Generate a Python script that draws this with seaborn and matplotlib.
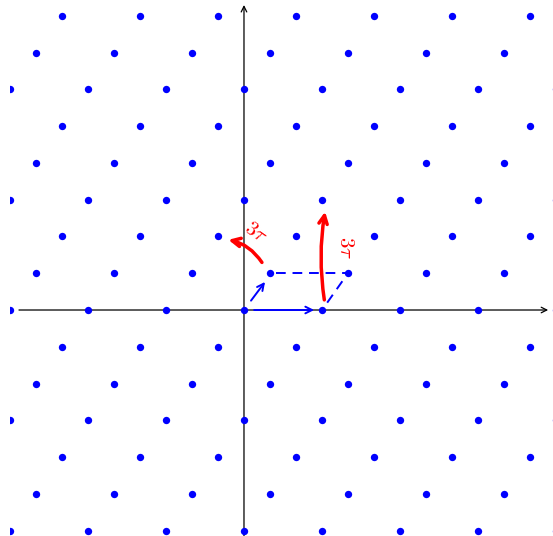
import matplotlib
matplotlib.use("Agg")
import matplotlib.pyplot as plt
import numpy as np
import pandas as pd
import seaborn as sns

# lattice Z + Z*tau with tau = (1 + i*sqrt(2)) / 3
tau_re = 1 / 3
tau_im = np.sqrt(2) / 3
rows = list(range(-6, 9))       # multiples of tau
cols = list(range(-8, 10))      # multiples of 1

# arrows and labels (data coords)
basis_one = [(0.13, 0.0), (0.90, 0.0)]
basis_tau = [(0.09, 0.12), (0.27, 0.36)]
dash_top = [(0.41, tau_im), (1.32, tau_im)]
dash_side = [(1.067, 0.094), (1.29, 0.41)]
red_left = [(0.23, 0.61), (-0.20, 0.90)]
red_right = [(1.03, 0.13), (1.04, 1.26)]
labels = [r'$3\tau$', r'$3\tau$']
label_pos = [(0.16, 1.0), (1.31, 0.80)]
label_rot = [-35, -90]

pts = [(m + n * tau_re, n * tau_im) for n in rows for m in cols]
df = pd.DataFrame(pts, columns=['x', 'y'])

sns.set_style('white')
plt.rcParams['mathtext.fontset'] = 'cm'

fig = plt.figure(figsize=(5.53, 5.36), dpi=100)
ax = fig.add_axes([10 / 553, 0, 543 / 553, 1])
ax.set_xlim(-3.0, 3.962)
ax.set_ylim(-2.897, 3.974)
ax.axis('off')

# axes with arrow tips
ax.annotate('', xy=(3.90, 0), xytext=(-2.885, 0),
            arrowprops=dict(arrowstyle='->', lw=0.9, color='black', shrinkA=0, shrinkB=0))
ax.annotate('', xy=(0, 3.91), xytext=(0, -2.897),
            arrowprops=dict(arrowstyle='->', lw=0.9, color='black', shrinkA=0, shrinkB=0),
            annotation_clip=False)

sns.scatterplot(data=df, x='x', y='y', color='blue', s=28, linewidth=0, ax=ax, zorder=3)

# blue basis vectors
for a, b in [basis_one, basis_tau]:
    ax.annotate('', xy=b, xytext=a,
                arrowprops=dict(arrowstyle='->', lw=1.4, color='blue', shrinkA=0, shrinkB=0,
                                mutation_scale=12))
for a, b in [dash_top, dash_side]:
    ax.plot([a[0], b[0]], [a[1], b[1]], color='blue', lw=1.4, linestyle=(0, (5, 3.5)))

# red curved arrows
ax.annotate('', xy=red_left[1], xytext=red_left[0],
            arrowprops=dict(arrowstyle='->', lw=2.5, color='red', shrinkA=0, shrinkB=0,
                            mutation_scale=15, connectionstyle='arc3,rad=0.2'))
ax.annotate('', xy=red_right[1], xytext=red_right[0],
            arrowprops=dict(arrowstyle='->', lw=2.5, color='red', shrinkA=0, shrinkB=0,
                            mutation_scale=15, connectionstyle='arc3,rad=-0.08'))

for t, p, r in zip(labels, label_pos, label_rot):
    ax.text(p[0], p[1], t, color='red', fontsize=15, rotation=r,
            ha='center', va='center', rotation_mode='anchor')

fig.savefig('out.png', dpi=100)
